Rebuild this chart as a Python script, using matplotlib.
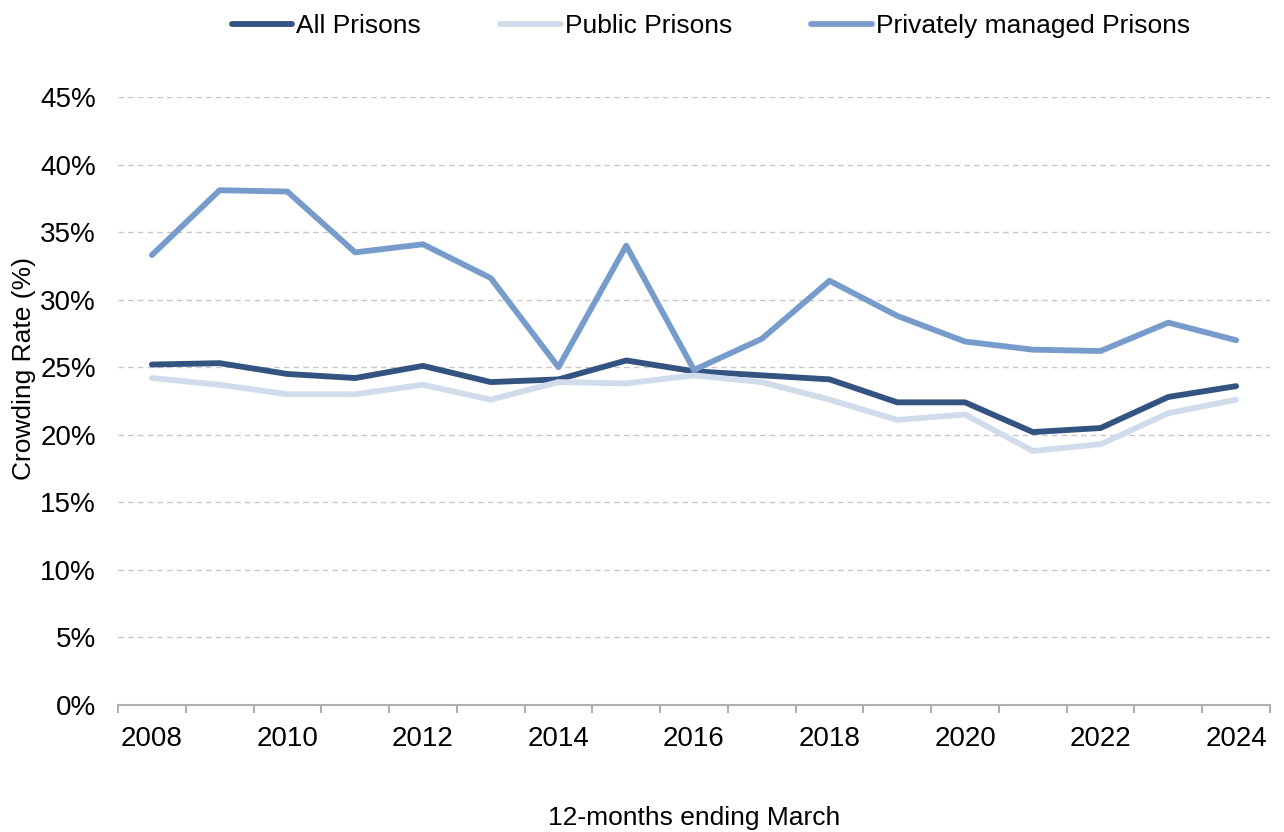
import numpy as np
import matplotlib.pyplot as plt
from matplotlib.ticker import FuncFormatter, MultipleLocator

plt.rcParams["font.family"] = ["Liberation Sans", "DejaVu Sans"]

years = list(range(2008, 2025))
all_prisons = [25.2, 25.3, 24.5, 24.2, 25.1, 23.9, 24.1, 25.5, 24.7,
               24.4, 24.1, 22.4, 22.4, 20.2, 20.5, 22.8, 23.6]
public_prisons = [24.2, 23.7, 23.0, 23.0, 23.7, 22.6, 23.9, 23.8, 24.4,
                  23.9, 22.6, 21.1, 21.5, 18.8, 19.3, 21.6, 22.6]
private_prisons = [33.3, 38.1, 38.0, 33.5, 34.1, 31.6, 25.0, 34.0, 24.8,
                   27.1, 31.4, 28.8, 26.9, 26.3, 26.2, 28.3, 27.0]

series = [
    ("All Prisons", all_prisons, "#335380"),
    ("Public Prisons", public_prisons, "#d0dcec"),
    ("Privately managed Prisons", private_prisons, "#779ccb"),
]

fig = plt.figure(figsize=(12.84, 8.32), dpi=100)
ax = fig.add_axes([118 / 1284, 1 - 705 / 832, (1270 - 118) / 1284, (705 - 97) / 832])

x = np.arange(len(years))
for name, vals, col in series:
    ax.plot(x, vals, color=col, lw=4.2, label=name, solid_capstyle="round",
            solid_joinstyle="round")

ax.set_xlim(-0.5, len(years) - 0.5)
ax.set_ylim(0, 45)
ax.yaxis.set_major_locator(MultipleLocator(5))
ax.yaxis.set_major_formatter(FuncFormatter(lambda v, p: f"{v:.0f}%"))
ax.grid(axis="y", color="#c8c8c8", ls=(0, (4, 3)), lw=1)
ax.set_axisbelow(True)

ax.set_xticks(x[::2])
ax.set_xticklabels([str(y) for y in years[::2]])
ax.set_xticks(np.arange(-0.5, len(years)), minor=True)
ax.tick_params(axis="x", which="major", length=0, pad=15, labelsize=20)
ax.tick_params(axis="x", which="minor", length=6, color="#b0b0b0", width=1.5)
ax.tick_params(axis="y", length=0, pad=16, labelsize=20)

for s in ["top", "right", "left"]:
    ax.spines[s].set_visible(False)
ax.spines["bottom"].set_color("#b0b0b0")
ax.spines["bottom"].set_linewidth(1.5)

fig.text(694 / 1284, 1 - 818 / 832, "12-months ending March", ha="center",
         va="center", fontsize=19)
fig.text(24 / 1284, 1 - 368 / 832, "Crowding Rate (%)", ha="center",
         va="center", rotation=90, fontsize=19)

fig.legend(loc="center", bbox_to_anchor=(711 / 1284, 1 - 26 / 832), ncol=3,
           frameon=False, fontsize=19, handlelength=2.3, handletextpad=0.15,
           columnspacing=3.0)

fig.savefig("out.png", dpi=100)
